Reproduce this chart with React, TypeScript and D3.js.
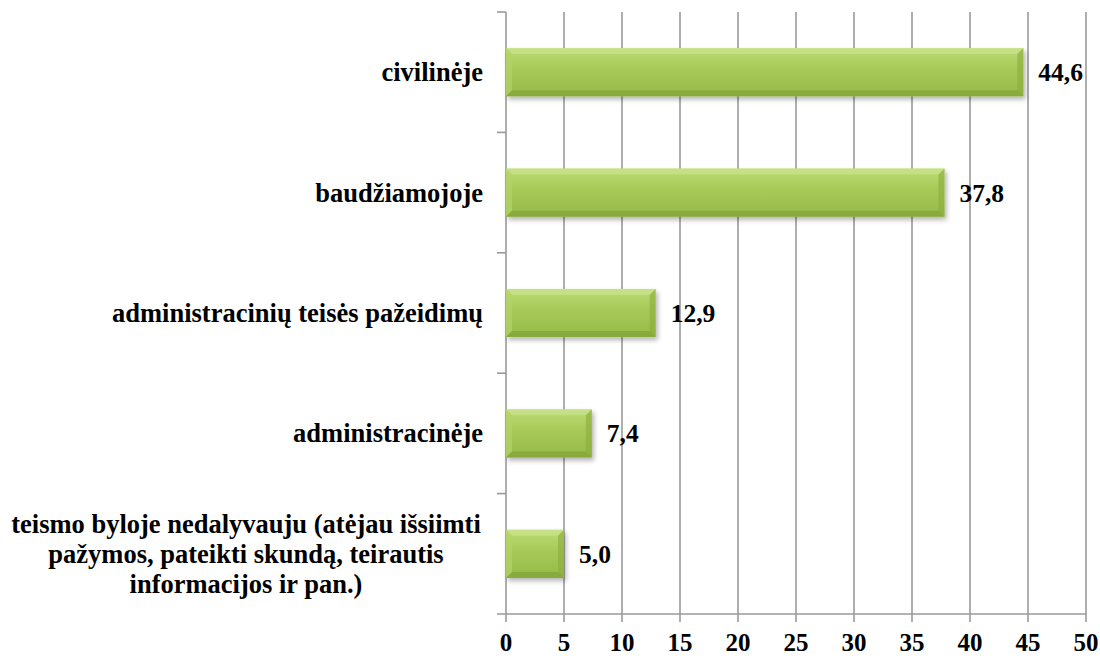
import React from 'react'
import { scaleBand, scaleLinear } from 'd3'

const categories = [
	'civilinėje',
	'baudžiamojoje',
	'administracinių teisės pažeidimų',
	'administracinėje',
	'teismo byloje nedalyvauju (atėjau išsiimti|pažymos, pateikti skundą, teirautis|informacijos ir pan.)',
]
const values = [44.6, 37.8, 12.9, 7.4, 5.0]
const ticks = [0, 5, 10, 15, 20, 25, 30, 35, 40, 45, 50]

const App = () => {
	const width = 1100
	const height = 658
	const margin = { top: 12, bottom: 44, left: 506, right: 14 }
	const graphWidth = width - margin.left - margin.right
	const graphHeight = height - margin.top - margin.bottom

	const x = scaleLinear().domain([0, 50]).range([0, graphWidth])
	const y = scaleBand().domain(categories).range([0, graphHeight]).paddingInner(0.6).paddingOuter(0.3)
	const step = y.step()
	const bevel = 6
	const gridColor = '#9a9a9a'
	const font = '"Times New Roman", "Liberation Serif", serif'

	return (
		<svg width={width} height={height} style={{ position: 'absolute', left: 0, top: 0, background: '#fff' }}>
			<defs>
				<linearGradient id="barFill" x1="0" y1="0" x2="0" y2="1">
					<stop offset="0" stopColor="#bcdb74" />
					<stop offset="0.45" stopColor="#a6c957" />
					<stop offset="1" stopColor="#96ba48" />
				</linearGradient>
				<filter id="shadow" x="-10%" y="-20%" width="130%" height="160%">
					<feGaussianBlur in="SourceAlpha" stdDeviation="2.5" />
					<feOffset dx="2" dy="3" result="b" />
					<feComponentTransfer><feFuncA type="linear" slope="0.3" /></feComponentTransfer>
					<feMerge><feMergeNode /><feMergeNode in="SourceGraphic" /></feMerge>
				</filter>
			</defs>
			<g transform={`translate(${margin.left}, ${margin.top})`}>
				{/* vertical grid lines */}
				{ticks.map(t => (
					<line key={`g-${t}`} x1={x(t)} x2={x(t)} y1={0} y2={graphHeight + 8} stroke={gridColor} strokeWidth={1.6} />
				))}
				{/* bottom axis */}
				<line x1={-9} x2={graphWidth} y1={graphHeight} y2={graphHeight} stroke={gridColor} strokeWidth={1.6} />
				{/* left tick marks between categories */}
				{[0, 1, 2, 3, 4].map(i => (
					<line key={`lt-${i}`} x1={-9} x2={0} y1={i * step} y2={i * step} stroke={gridColor} strokeWidth={1.6} />
				))}
				{ticks.map(t => (
					<text key={`tl-${t}`} x={x(t)} y={graphHeight + 37} textAnchor="middle" fontFamily={font} fontWeight="bold" fontSize={25}>{t}</text>
				))}

				{categories.map((c, i) => {
					const by = y(c)
					const bh = y.bandwidth()
					const bw = x(values[i])
					const lines = c.split('|')
					const cy = by + bh / 2
					const multi = lines.length > 1
					return (
						<g key={c}>
							<g filter="url(#shadow)">
								<rect x={0} y={by} width={bw} height={bh} fill="url(#barFill)" />
								<polygon points={`0,${by} ${bw},${by} ${bw - bevel},${by + bevel} ${bevel},${by + bevel}`} fill="#d0e895" opacity={0.55} />
								<polygon points={`0,${by} ${bevel},${by + bevel} ${bevel},${by + bh - bevel} 0,${by + bh}`} fill="#b4d36a" opacity={0.7} />
								<polygon points={`${bw},${by} ${bw},${by + bh} ${bw - bevel},${by + bh - bevel} ${bw - bevel},${by + bevel}`} fill="#8aab3c" opacity={0.6} />
								<polygon points={`0,${by + bh} ${bw},${by + bh} ${bw - bevel},${by + bh - bevel} ${bevel},${by + bh - bevel}`} fill="#7f9f36" opacity={0.6} />
							</g>
							<text x={bw + 15} y={cy + 9} fontFamily={font} fontWeight="bold" fontSize={25.5}>
								{values[i].toFixed(1).replace('.', ',')}
							</text>
							<text y={cy + 9 - (lines.length - 1) * 15} textAnchor={multi ? 'middle' : 'end'} fontFamily={font} fontWeight="bold" fontSize={26.5}>
								{lines.map((l, j) => (
									<tspan key={j} x={multi ? -260 : -23} dy={j === 0 ? 0 : 30}>{l}</tspan>
								))}
							</text>
						</g>
					)
				})}
			</g>
		</svg>
	)
}

export default App
